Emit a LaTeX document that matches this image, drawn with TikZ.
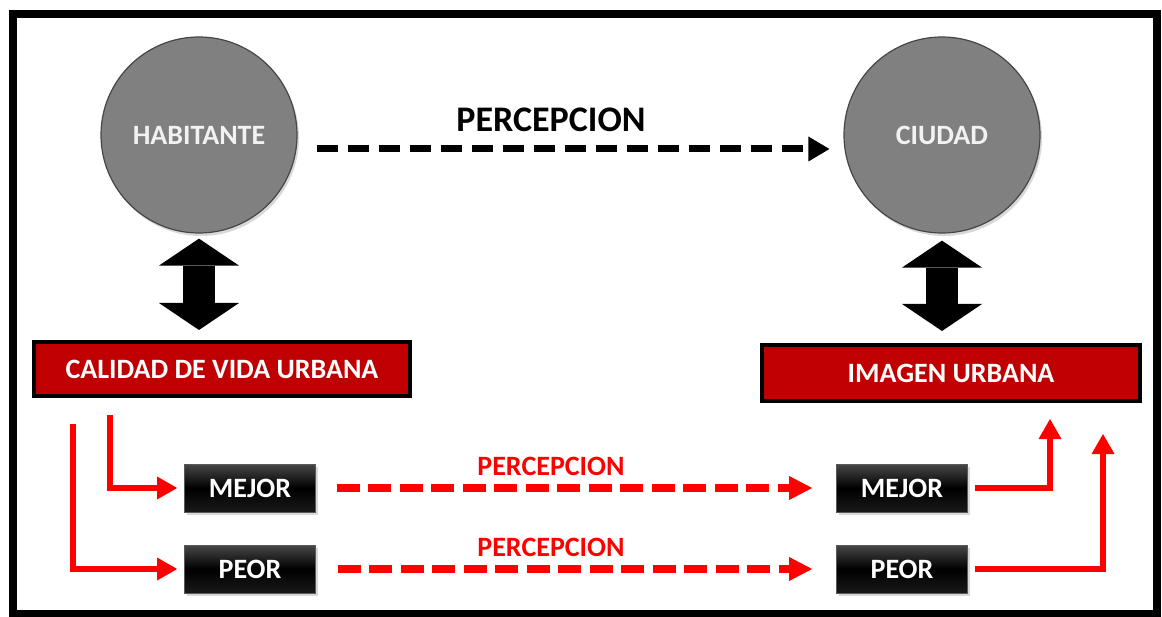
\documentclass[tikz,border=0pt]{standalone}
\usepackage{fontspec}
\setmainfont{Carlito}
\usetikzlibrary{arrows.meta,calc,shadows}
\definecolor{darkred}{HTML}{C00000}
\definecolor{circgray}{HTML}{808080}
\definecolor{purered}{HTML}{FF0000}
\begin{document}
\begin{tikzpicture}[x=1pt,y=-1pt,
  lbl/.style={font=\fontsize{28}{30}\selectfont\bfseries},
  circ/.style={circle, minimum size=196pt, inner sep=0pt, fill=circgray,
    draw=gray!55!black, line width=1.2pt, text=white!95!black, lbl,
    drop shadow={shadow xshift=2pt, shadow yshift=-3pt, opacity=0.3}},
  redbox/.style={rectangle, fill=darkred, draw=black, line width=4pt,
    text=white, lbl, inner sep=0pt},
  blackbox/.style={rectangle, draw=black!65, line width=0.8pt,
    top color=black!72, bottom color=black!90, middle color=black,
    text=white, lbl, inner sep=0pt, minimum width=131pt, minimum height=48pt,
    drop shadow={shadow xshift=2pt, shadow yshift=-3pt, opacity=0.3}},
  dblarrow/.style={line width=32pt,
    {Triangle[length=27pt,width=80pt,line width=0pt]}-{Triangle[length=27pt,width=80pt,line width=0pt]}},
  blkdash/.style={line width=7pt, dash pattern=on 21pt off 10pt,
    -{Triangle[length=21pt,width=25pt,line width=0pt]}},
  reddash/.style={purered, line width=8pt, dash pattern=on 23pt off 8.5pt,
    -{Triangle[length=23pt,width=24pt,line width=0pt]}},
  redarr/.style={purered, line width=5.5pt,
    -{Triangle[length=20pt,width=23pt,line width=0pt]}}
]
\useasboundingbox (0,0) rectangle (1162,617);
\fill[white] (0,0) rectangle (1162,617);
\draw[line width=8pt] (12.5,14) rectangle (1157,614);

% circles
\node[circ] (hab) at (199,135) {HABITANTE};
\node[circ] (ciu) at (942,135) {CIUDAD};

% red boxes
\node[redbox, minimum width=376pt, minimum height=54pt] (cal) at (222,369) {CALIDAD DE VIDA URBANA};
\node[redbox, minimum width=378pt, minimum height=56pt] (img) at (951,373) {IMAGEN URBANA};

% black boxes
\node[blackbox] (m1) at (250,488) {MEJOR};
\node[blackbox] (p1) at (250,569) {PEOR};
\node[blackbox] (m2) at (902,488) {MEJOR};
\node[blackbox] (p2) at (902,569) {PEOR};

% top perception arrow
\draw[blkdash] ($(hab.east)+(19,14)$) -- ($(ciu.west)+(-14,14)$);
\node[font=\fontsize{36}{38}\selectfont\bfseries] (ptop) at (551,120) {PERCEPCION};

% double arrows
\draw[dblarrow, shorten <=5pt, shorten >=10pt] (hab.south) -- (hab.south |- cal.north);
\draw[dblarrow, shorten <=7pt, shorten >=12pt] (ciu.south) -- (ciu.south |- img.north);

% red dashed perception arrows
\draw[reddash, shorten <=21pt, shorten >=24pt] (m1.east) -- (m2.west);
\draw[reddash, shorten <=22pt, shorten >=24pt] (p1.east) -- (p2.west);
\node[lbl, text=purered] (pm) at (551,466) {PERCEPCION};
\node[lbl, text=purered] (pp) at (551,547) {PERCEPCION};

% left elbows
\coordinate (s1) at ($(cal.south)+(-112,17)$);
\coordinate (s2) at ($(cal.south)+(-149,26)$);
\draw[redarr, shorten >=7pt] (s1) |- (m1.west);
\draw[redarr, shorten >=7pt] (s2) |- (p1.west);

% right elbows
\coordinate (e1) at ($(img.south)+(99,16)$);
\coordinate (e2) at ($(img.south)+(152,31)$);
\draw[redarr, shorten <=7pt] (m2.east) -| (e1);
\draw[redarr, shorten <=7pt] (p2.east) -| (e2);
\end{tikzpicture}
\end{document}
